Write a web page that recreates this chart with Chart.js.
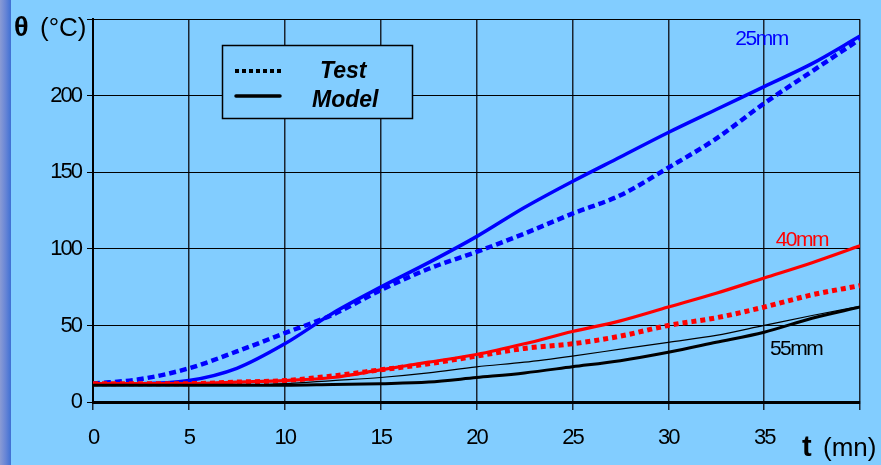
<!DOCTYPE html>
<html>
<head>
<meta charset="utf-8">
<script src="https://cdn.jsdelivr.net/npm/chart.js@4.4.1/dist/chart.umd.min.js"></script>
<style>
  html, body { margin: 0; padding: 0; background: #82cdff; }
  #wrap { width: 881px; height: 465px; position: relative; }
</style>
</head>
<body>
<div id="wrap"><canvas id="myChart" width="881" height="465"></canvas></div>
<script>
// time in minutes
var times = [0, 2.5, 5, 7.5, 10, 12.5, 15, 17.5, 20, 22.5, 25, 27.5, 30, 32.5, 35, 37.5, 40];

// temperatures (°C)
var model25 = [12, 12, 14, 22, 38, 58, 75, 91, 108, 127, 144, 160, 176, 191, 206, 221, 239];
var test25  = [12, 15, 22, 33, 45, 57, 73, 87, 98, 110, 123, 135, 153, 172, 195, 216, 237];
var model40 = [12, 12, 12, 13, 14, 16, 21, 26, 31, 38, 46, 53, 62, 71, 81, 91, 102];
var test40  = [12, 12, 12, 13, 14, 17, 21, 25, 30, 35, 38, 43, 50, 55, 62, 70, 76];
var model55 = [11, 11, 11, 11, 11, 11.5, 12, 13, 16, 19, 23, 27, 32.5, 39, 45.6, 54.7, 62];
var test55  = [11, 11, 11, 11, 12, 14, 16, 19, 23, 26, 30, 34.5, 39, 43.5, 50, 56.5, 62.5];

var xTicks = [0, 5, 10, 15, 20, 25, 30, 35, 40];
var yTicks = [0, 50, 100, 150, 200, 250];

// curve labels, in data units (t, °C)
var curveLabels = [
    { text: '25mm', t: 33.5, v: 233, color: '#0000ff' },
    { text: '40mm', t: 35.6, v: 102, color: '#ff0000' },
    { text: '55mm', t: 35.3, v: 31, color: '#000000' }
];

function pts(arr) {
    return times.map(function(t, i) { return { x: t, y: arr[i] }; });
}

var bgPlugin = {
    id: 'bg',
    beforeDraw: function(chart) {
        var ctx = chart.ctx;
        ctx.save();
        ctx.fillStyle = '#82cdff';
        ctx.fillRect(0, 0, chart.width, chart.height);
        var g = ctx.createLinearGradient(0, 0, 11, 0);
        g.addColorStop(0, '#8a9bd4');
        g.addColorStop(0.5, '#6886d6');
        g.addColorStop(1, '#3f70d4');
        ctx.fillStyle = g;
        ctx.fillRect(0, 0, 11, chart.height);
        ctx.restore();
        ctx.letterSpacing = '-2px';
    }
};

var textPlugin = {
    id: 'texts',
    afterDraw: function(chart) {
        var ctx = chart.ctx;
        var xs = chart.scales.x, ys = chart.scales.y;
        ctx.save();
        ctx.letterSpacing = '0px';
        ctx.fillStyle = '#000';
        ctx.textBaseline = 'alphabetic';
        ctx.textAlign = 'left';
        // axis titles
        ctx.font = 'bold 27px "Liberation Sans", Arial, sans-serif';
        ctx.fillText('θ', 14, 36);
        ctx.font = '26px "Liberation Sans", Arial, sans-serif';
        ctx.fillText('(°C)', 40, 36);
        ctx.font = 'bold 29px "Liberation Sans", Arial, sans-serif';
        ctx.fillText('t', 802, 456);
        ctx.font = '26px "Liberation Sans", Arial, sans-serif';
        ctx.fillText('(mn)', 823, 456);

        // curve labels
        ctx.font = '21px "Liberation Sans", Arial, sans-serif';
        ctx.letterSpacing = '-1.5px';
        curveLabels.forEach(function(l) {
            ctx.fillStyle = l.color;
            ctx.fillText(l.text, xs.getPixelForValue(l.t), ys.getPixelForValue(l.v));
        });
        ctx.letterSpacing = '0px';

        // legend box
        ctx.fillStyle = '#82cdff';
        ctx.fillRect(222, 45, 190, 74);
        ctx.strokeStyle = '#000';
        ctx.lineWidth = 1.5;
        ctx.strokeRect(222.5, 45.5, 190, 73);
        ctx.lineWidth = 4;
        ctx.setLineDash([4, 3]);
        ctx.beginPath();
        ctx.moveTo(235, 71);
        ctx.lineTo(281, 71);
        ctx.stroke();
        ctx.setLineDash([]);
        ctx.lineWidth = 3.5;
        ctx.lineCap = 'round';
        ctx.beginPath();
        ctx.moveTo(236, 96);
        ctx.lineTo(280, 96);
        ctx.stroke();
        ctx.fillStyle = '#000';
        ctx.font = 'italic bold 23px "Liberation Sans", Arial, sans-serif';
        ctx.fillText('Test', 320, 78);
        ctx.fillText('Model', 312, 107);
        ctx.restore();
    }
};

const ctx = document.getElementById('myChart');
chart = new Chart(ctx, {
    type: 'line',
    data: {
        datasets: [
            { label: '55mm Model', data: pts(model55), borderColor: '#000000', borderWidth: 3 },
            { label: '55mm Test', data: pts(test55), borderColor: '#000000', borderWidth: 1.2 },
            { label: '40mm Model', data: pts(model40), borderColor: '#ff0000', borderWidth: 3.2 },
            { label: '40mm Test', data: pts(test40), borderColor: '#ff0000', borderWidth: 5, borderDash: [5, 4] },
            { label: '25mm Model', data: pts(model25), borderColor: '#0000ff', borderWidth: 3.5 },
            { label: '25mm Test', data: pts(test25), borderColor: '#0000ff', borderWidth: 4.5, borderDash: [7, 4] }
        ]
    },
    options: {
        responsive: false,
        animation: false,
        layout: { padding: { top: 18, right: 21, left: 0, bottom: 0 } },
        elements: {
            point: { radius: 0 },
            line: { cubicInterpolationMode: 'monotone', fill: false }
        },
        plugins: {
            legend: { display: false },
            tooltip: { enabled: false }
        },
        scales: {
            x: {
                type: 'linear',
                min: 0,
                max: 40,
                afterFit: function(s) { s.height = 63; },
                afterBuildTicks: function(s) { s.ticks = xTicks.map(function(v) { return { value: v }; }); },
                grid: { color: '#1a2530', lineWidth: 1.5, tickLength: 8 },
                border: { color: '#000', width: 3 },
                ticks: {
                    color: '#000',
                    padding: 15,
                    maxRotation: 0,
                    font: { family: '"Liberation Sans", Arial, sans-serif', size: 22 },
                    callback: function(val) { return val === 40 ? '' : val; }
                }
            },
            y: {
                min: 0,
                max: 250,
                afterFit: function(s) { s.width = 93; },
                afterBuildTicks: function(s) { s.ticks = yTicks.map(function(v) { return { value: v }; }); },
                grid: { color: '#000', lineWidth: 1, tickLength: 6 },
                border: { color: '#000', width: 2 },
                ticks: {
                    color: '#000',
                    padding: 6,
                    font: { family: '"Liberation Sans", Arial, sans-serif', size: 22 },
                    callback: function(val) { return val === 250 ? '' : val; }
                }
            }
        }
    },
    plugins: [bgPlugin, textPlugin]
});
</script>
</body>
</html>
